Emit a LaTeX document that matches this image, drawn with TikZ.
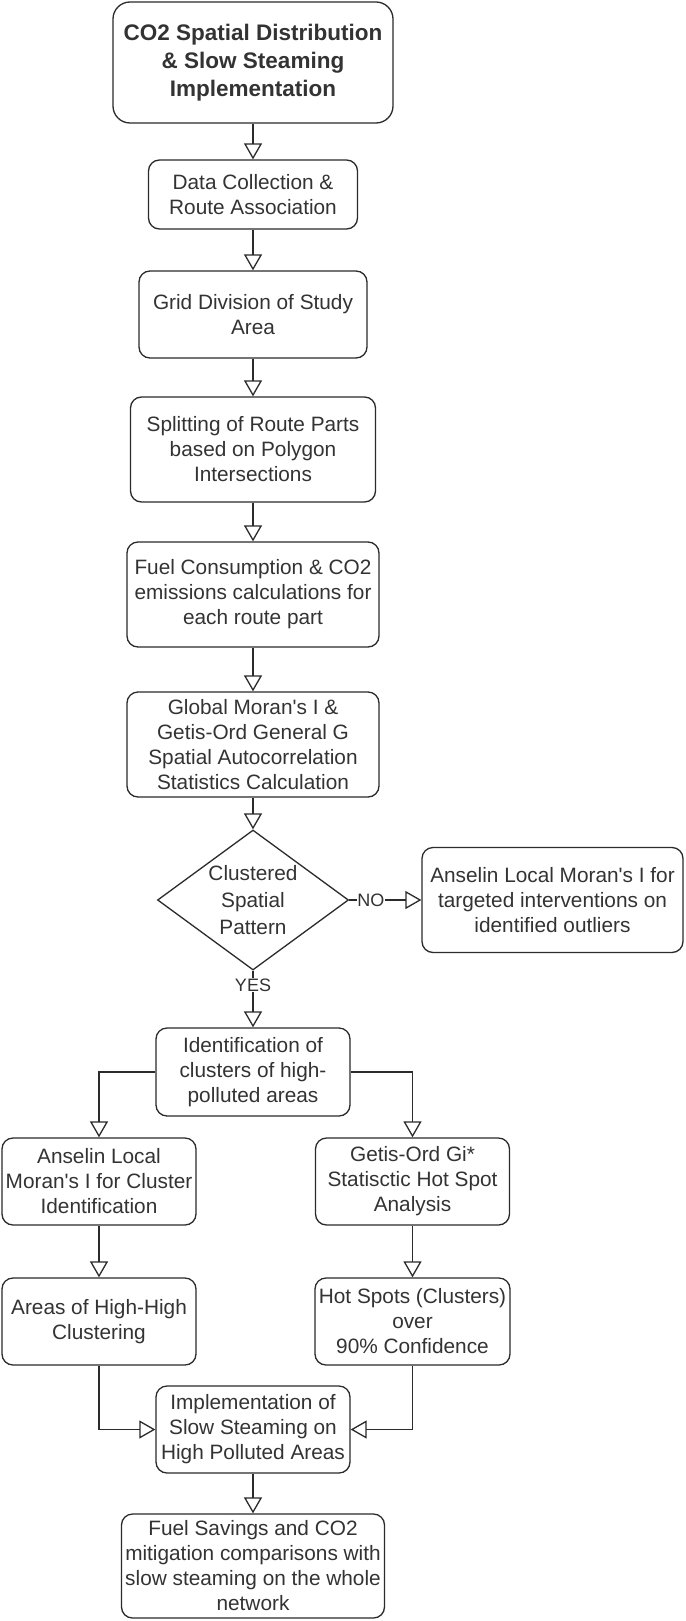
\documentclass[tikz,border=0pt]{standalone}
\usepackage{fontspec}
\setmainfont{Liberation Sans}
\usetikzlibrary{arrows.meta,shapes.geometric}
\definecolor{ink}{HTML}{2B2B2B}
\definecolor{txt}{HTML}{333333}
\newcommand{\apos}{\textquotesingle}
\tikzset{
  box/.style={draw=ink, line width=1.3pt, rounded corners=11pt, fill=white,
    align=center, inner sep=0pt, text=txt,
    font=\fontsize{20.8}{25}\selectfont},
  titlebox/.style={box, rounded corners=17pt,
    font=\bfseries\fontsize{22.5}{28}\selectfont},
  decision/.style={draw=ink, line width=1.3pt, shape=diamond, aspect=1.364,
    inner sep=0pt, align=center, text=txt, fill=white,
    font=\fontsize{20.8}{27}\selectfont},
  arr/.style={draw=ink, line width=1.3pt,
    -{Triangle[open, length=16pt, width=18pt, line width=1.3pt]}},
  lbl/.style={fill=white, inner sep=0.6pt, text=txt,
    font=\fontsize{18}{20}\selectfont}
}
\begin{document}
\begin{tikzpicture}[x=1pt, y=-1pt]
\useasboundingbox[fill=white] (0,0) rectangle (685,1621);

\node[titlebox, minimum width=280pt, minimum height=121pt] (title) at (253,62.5)
  {CO2 Spatial Distribution\\ \& Slow Steaming\\ Implementation};
\node[box, minimum width=209pt, minimum height=69pt] (data) at (253,194.5)
  {Data Collection \&\\ Route Association};
\node[box, minimum width=228pt, minimum height=87pt] (grid) at (253,314.5)
  {Grid Division of Study\\ Area};
\node[box, minimum width=245pt, minimum height=105pt] (split) at (253,449.5)
  {Splitting of Route Parts\\ based on Polygon\\ Intersections};
\node[box, minimum width=252pt, minimum height=105pt] (fuel) at (253,594.5)
  {Fuel Consumption \& CO2\\ emissions calculations for\\ each route part};
\node[box, minimum width=252pt, minimum height=105pt] (global) at (253,744.5)
  {Global Moran\apos s I \&\\ Getis-Ord General G\\ Spatial Autocorrelation\\ Statistics Calculation};
\node[decision, minimum width=191pt, minimum height=140pt] (dec) at (253,900)
  {Clustered\\ Spatial\\ Pattern};
\node[box, minimum width=261pt, minimum height=105pt] (outl) at (552.5,900)
  {Anselin Local Moran\apos s I for\\ targeted interventions on\\ identified outliers};
\node[box, minimum width=194pt, minimum height=88pt] (ident) at (253,1072)
  {Identification of\\ clusters of high-\\ polluted areas};
\node[box, minimum width=194pt, minimum height=87pt] (lmc) at (99,1181.5)
  {Anselin Local\\ Moran\apos s I for Cluster\\ Identification};
\node[box, minimum width=194pt, minimum height=87pt] (gi) at (412.5,1181.5)
  {Getis-Ord Gi*\\ Statisctic Hot Spot\\ Analysis};
\node[box, minimum width=194pt, minimum height=87pt] (hh) at (99,1321.5)
  {Areas of High-High\\ Clustering};
\node[box, minimum width=195pt, minimum height=87pt] (hot) at (412.5,1321.5)
  {Hot Spots (Clusters)\\ over\\ 90\% Confidence};
\node[box, minimum width=194pt, minimum height=87pt] (impl) at (253,1429.5)
  {Implementation of\\ Slow Steaming on\\ High Polluted Areas};
\node[box, minimum width=263pt, minimum height=104pt] (final) at (253,1566)
  {Fuel Savings and CO2\\ mitigation comparisons with\\ slow steaming on the whole\\ network};

\draw[arr] (title.south) -- (data.north);
\draw[arr] (data.south) -- (grid.north);
\draw[arr] (grid.south) -- (split.north);
\draw[arr] (split.south) -- (fuel.north);
\draw[arr] (fuel.south) -- (global.north);
\draw[arr] (global.south) -- (dec.north);
\draw[arr] (dec.east) -- node[lbl, pos=0.3] (no) {NO} (outl.west);
\draw[arr] (dec.south) -- node[lbl, pos=0.25] (yes) {YES} (ident.north);
\draw[arr] (ident.west) -| (lmc.north);
\draw[arr] (ident.east) -| (gi.north);
\draw[arr] (lmc.south) -- (hh.north);
\draw[arr] (gi.south) -- (hot.north);
\draw[arr] (hh.south) |- (impl.west);
\draw[arr] (hot.south) |- (impl.east);
\draw[arr] (impl.south) -- (final.north);
\end{tikzpicture}
\end{document}
